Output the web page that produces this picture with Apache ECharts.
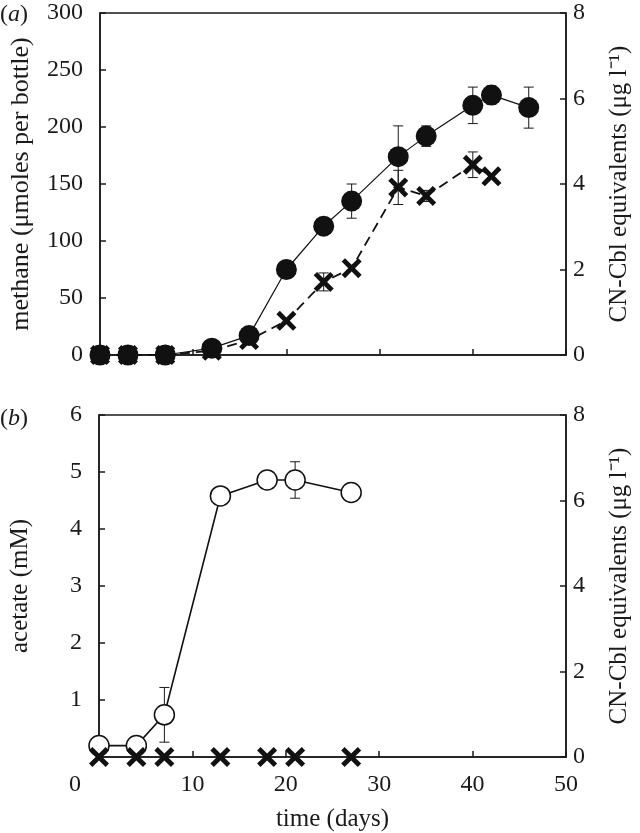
<!DOCTYPE html>
<html>
<head>
<meta charset="utf-8">
<script src="https://cdn.jsdelivr.net/npm/echarts@6/dist/echarts.min.js"></script>
<style>
html,body{margin:0;padding:0;background:#fff;}
#chart{width:640px;height:833px;}
</style>
</head>
<body>
<div id="chart"></div>
<script>
// ---- data ----
// panel (a)
var methaneDays = [0, 3, 7, 12, 16, 20, 24, 27, 32, 35, 40, 42, 46];
var methane     = [0, 0, 0, 6, 17, 75, 113, 135, 174, 192, 219, 228, 217];
var methaneErr  = [0, 0, 0, 0, 0, 0, 7, 15, 27, 9, 16, 8, 18];
var cblDaysA    = [0, 3, 7, 12, 16, 20, 24, 27, 32, 35, 40, 42];
var cblA        = [0, 0, 0, 0.1, 0.35, 0.8, 1.71, 2.03, 3.92, 3.72, 4.45, 4.18];
var cblErrA     = [0, 0, 0, 0, 0, 0, 0.21, 0, 0.4, 0.13, 0.3, 0];
// panel (b)
var acetateDays = [0, 4, 7, 13, 18, 21, 27];
var acetate     = [0.2, 0.2, 0.74, 4.58, 4.86, 4.86, 4.64];
var acetateErr  = [0, 0, 0.48, 0, 0, 0.32, 0];
var cblDaysB    = [0, 4, 7, 13, 18, 21, 27];
var cblB        = [0, 0, 0, 0, 0, 0, 0];
// axis titles / labels
var xTitle = 'time (days)';
var methaneTitle = 'methane (\u03bcmoles per bottle)';
var acetateTitle = 'acetate (mM)';
var cblTitle = 'CN-Cbl equivalents (\u03bcg l\u207b\u00b9)';

function pairs(xs, ys){ return xs.map(function(x,i){ return [x, ys[i]]; }); }
function triples(xs, ys, es){ return xs.map(function(x,i){ return [x, ys[i], es[i]]; }); }

var FONT = 'Liberation Serif';
var INK = '#1a1a1a';
var crossPath = 'path://M1.7,0 L5,3.3 L8.3,0 L10,1.7 L6.7,5 L10,8.3 L8.3,10 L5,6.7 L1.7,10 L0,8.3 L3.3,5 L0,1.7 Z';

function errRender(params, api){
  var e = api.value(2);
  if (!e) return null;
  var x = api.value(0), y = api.value(1);
  var t = api.coord([x, y + e]), b = api.coord([x, y - e]);
  var w = 5;
  var st = {stroke: INK, lineWidth: 1};
  return {type:'group', children:[
    {type:'line', shape:{x1:t[0], y1:t[1], x2:b[0], y2:b[1]}, style:st},
    {type:'line', shape:{x1:t[0]-w, y1:t[1], x2:t[0]+w, y2:t[1]}, style:st},
    {type:'line', shape:{x1:b[0]-w, y1:b[1], x2:b[0]+w, y2:b[1]}, style:st}
  ]};
}

var labelStyle = {fontFamily: FONT, fontSize: 24, color: INK};
var nameStyle = {fontFamily: FONT, fontSize: 25, color: INK};
var axisLine = {show: true, lineStyle: {color: INK, width: 1.5}};
var tick = {show: true, inside: true, length: 6, lineStyle: {color: INK, width: 1.5}};

function xAx(grid, showLabels){
  return {
    type: 'value', gridIndex: grid, min: 0, max: 50, interval: 10,
    axisLine: axisLine, axisTick: tick, splitLine: {show: false},
    axisLabel: Object.assign({show: showLabels, margin: 16,
      formatter: function(v){ return v === 0 ? '{z|0}' : String(v); },
      rich: {z: {fontFamily: FONT, fontSize: 24, color: INK, padding: [0, 48, 0, 0]}}
    }, labelStyle),
    name: showLabels ? xTitle : '', nameLocation: 'middle', nameGap: 50, nameTextStyle: nameStyle
  };
}
function yAx(grid, pos, max, interval, name, gap, hideZero, nameSize){
  return {
    type: 'value', gridIndex: grid, position: pos, min: 0, max: max, interval: interval,
    axisLine: axisLine, axisTick: tick, splitLine: {show: false},
    axisLabel: Object.assign({margin: pos === 'left' ? 17 : 7,
      formatter: function(v){ return (hideZero && v === 0) ? '' : String(v); }}, labelStyle),
    name: name, nameLocation: 'middle', nameRotate: 90, nameGap: gap,
    nameTextStyle: Object.assign({}, nameStyle, nameSize ? {fontSize: nameSize} : {})
  };
}

var chart = echarts.init(document.getElementById('chart'), null, {renderer: 'canvas'});
chart.setOption({
  animation: false,
  backgroundColor: '#fff',
  grid: [
    {left: 97, right: 68, top: 13, height: 342, show: true, borderColor: INK, borderWidth: 1.5, backgroundColor: 'transparent'},
    {left: 97, right: 68, top: 415, height: 342, show: true, borderColor: INK, borderWidth: 1.5, backgroundColor: 'transparent'}
  ],
  xAxis: [xAx(0, false), xAx(1, true)],
  yAxis: [
    yAx(0, 'left', 300, 50, methaneTitle, 66, false, 26),
    yAx(0, 'right', 8, 2, cblTitle, 41, false),
    yAx(1, 'left', 6, 1, acetateTitle, 66, true),
    yAx(1, 'right', 8, 2, cblTitle, 41, false)
  ],
  graphic: [
    {type: 'text', left: 0, top: 3, style: {text: '({i|a})', font: '24px "Liberation Serif"', fill: INK,
      rich: {i: {fontFamily: FONT, fontSize: 24, fontStyle: 'italic', fill: INK}}}},
    {type: 'text', left: 0, top: 407, style: {text: '({i|b})', font: '24px "Liberation Serif"', fill: INK,
      rich: {i: {fontFamily: FONT, fontSize: 24, fontStyle: 'italic', fill: INK}}}}
  ],
  series: [
    {type: 'custom', xAxisIndex: 0, yAxisIndex: 0, renderItem: errRender, data: triples(methaneDays, methane, methaneErr), z: 1},
    {type: 'custom', xAxisIndex: 0, yAxisIndex: 1, renderItem: errRender, data: triples(cblDaysA, cblA, cblErrA), z: 1},
    {type: 'line', xAxisIndex: 0, yAxisIndex: 0, data: pairs(methaneDays, methane),
      symbol: 'circle', symbolSize: 21, itemStyle: {color: '#111'}, lineStyle: {color: '#111', width: 1.2}, z: 3},
    {type: 'line', xAxisIndex: 0, yAxisIndex: 1, data: pairs(cblDaysA, cblA),
      symbol: crossPath, symbolSize: 20, itemStyle: {color: '#111'}, lineStyle: {color: '#111', width: 1.8, type: [10, 6]}, z: 4},
    {type: 'custom', xAxisIndex: 1, yAxisIndex: 2, renderItem: errRender, data: triples(acetateDays, acetate, acetateErr), z: 1},
    {type: 'line', xAxisIndex: 1, yAxisIndex: 2, data: pairs(acetateDays, acetate),
      symbol: 'circle', symbolSize: 20, itemStyle: {color: '#fff', borderColor: '#111', borderWidth: 1.5},
      lineStyle: {color: '#111', width: 1.6}, z: 3},
    {type: 'line', xAxisIndex: 1, yAxisIndex: 3, data: pairs(cblDaysB, cblB),
      symbol: crossPath, symbolSize: 20, itemStyle: {color: '#111'}, lineStyle: {width: 0}, z: 4}
  ]
});
</script>
</body>
</html>
